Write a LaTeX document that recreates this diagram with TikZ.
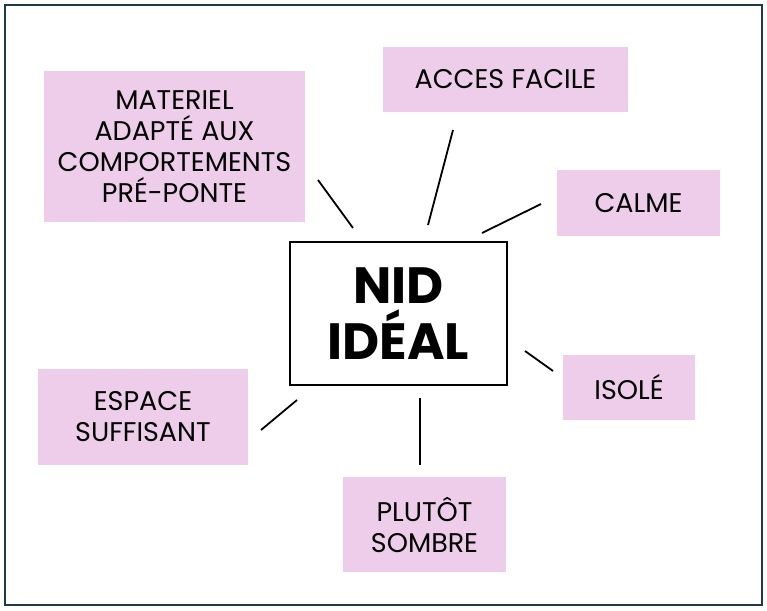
\documentclass[tikz,border=0pt]{standalone}
\usepackage{fontspec}
\setmainfont{Poppins}
\definecolor{pinkbox}{HTML}{EECDEA}
\definecolor{frame}{HTML}{1F3A44}
\begin{document}
\begin{tikzpicture}[x=1pt,y=-1pt,
  lbl/.style={fill=pinkbox,draw=none,inner sep=0,align=center,font=\fontsize{27}{31}\selectfont},
  ln/.style={line width=1.8pt,black}]
\useasboundingbox (0,0) rectangle (767,610);
\draw[frame,line width=2pt] (5,5) rectangle (762,605);
\node[lbl,minimum width=261,minimum height=151] (mat) at (174.5,146.5) {MATERIEL\\ADAPTÉ AUX\\COMPORTEMENTS\\PRÉ-PONTE};
\node[lbl,minimum width=245,minimum height=65] (acc) at (505.5,79.5) {ACCES FACILE};
\node[lbl,minimum width=163,minimum height=66] (cal) at (638.5,203) {CALME};
\node[lbl,minimum width=132,minimum height=65] (iso) at (629,387.5) {ISOLÉ};
\node[lbl,minimum width=163,minimum height=95] (som) at (424.5,524.5) {PLUTÔT\\SOMBRE};
\node[lbl,minimum width=210,minimum height=96] (esp) at (143,417) {ESPACE\\SUFFISANT};
\node[draw=black,line width=2pt,fill=white,minimum width=217,minimum height=143,align=center,
  font=\fontsize{51}{56}\selectfont\bfseries] (nid) at (398.5,313.5) {NID\\IDÉAL};
\coordinate (a1) at (318,180); \coordinate (a2) at (353,228);
\coordinate (b1) at (453,130); \coordinate (b2) at (428,225);
\coordinate (c1) at (541,204); \coordinate (c2) at (482,233);
\coordinate (d1) at (525,351); \coordinate (d2) at (553,371);
\coordinate (e1) at (420,398); \coordinate (e2) at (420,465);
\coordinate (f1) at (297,400); \coordinate (f2) at (261,430);
\foreach \p in {a,b,c,d,e,f} \draw[ln] (\p1) -- (\p2);
\end{tikzpicture}
\end{document}
